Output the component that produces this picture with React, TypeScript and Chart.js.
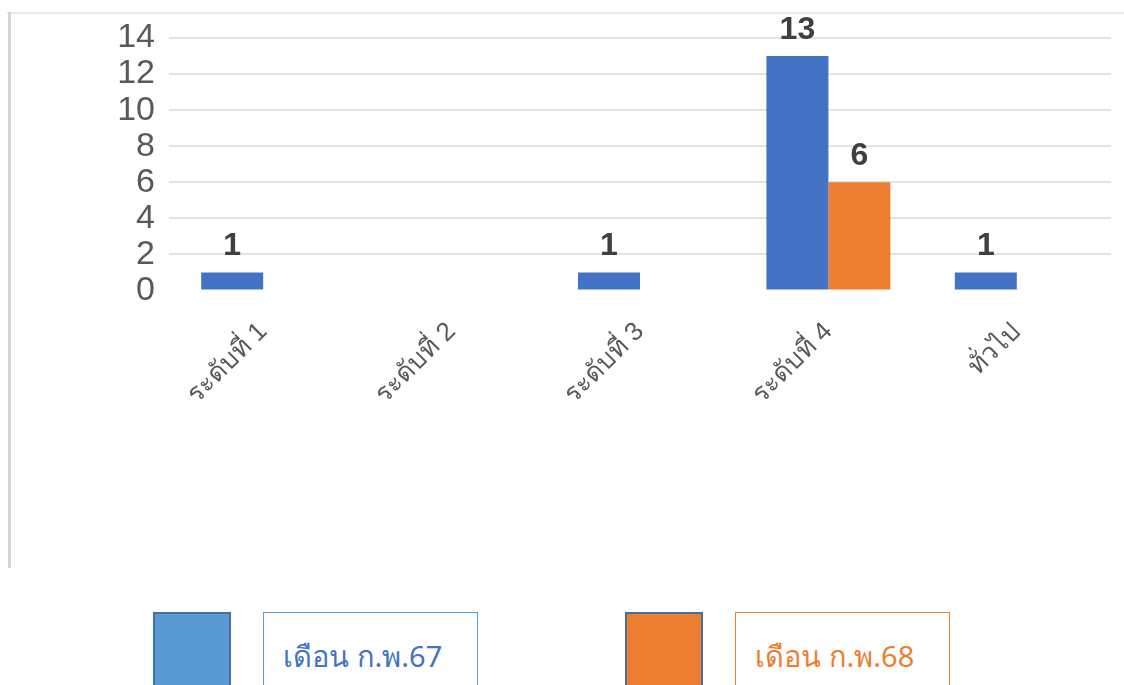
import React, { useEffect, useRef } from "react";
import { Chart, registerables } from "chart.js";

Chart.register(...registerables);

const categories = ["ระดับที่ 1", "ระดับที่ 2", "ระดับที่ 3", "ระดับที่ 4", "ทั่วไป"];
const seriesNames = ["เดือน ก.พ.67", "เดือน ก.พ.68"];
const feb67: (number | null)[] = [1, null, 1, 13, 1];
const feb68: (number | null)[] = [null, null, null, 6, null];
const yMin = 0;
const yMax = 14;
const yStep = 2;

const barColors = ["#4472C4", "#ED7D31"];
const legendSwatch = ["#5B9BD5", "#ED7D31"];
const legendText = ["#4472C4", "#ED7D31"];
const legendBorder = ["#5B9BD5", "#ED7D31"];

const CANVAS_W = 1124;
const CANVAS_H = 570;

const dataLabelPlugin = {
  id: "dataLabels",
  afterDatasetsDraw(chart: any) {
    const ctx = chart.ctx;
    ctx.save();
    ctx.font = "bold 32px 'Liberation Sans', Arial, sans-serif";
    ctx.fillStyle = "#404040";
    ctx.textAlign = "center";
    ctx.textBaseline = "alphabetic";
    chart.data.datasets.forEach((ds: any, i: number) => {
      const meta = chart.getDatasetMeta(i);
      meta.data.forEach((el: any, j: number) => {
        const v = ds.data[j];
        if (v === null || v === undefined) return;
        ctx.fillText(String(v), el.x, el.y - 17);
      });
    });
    ctx.restore();
  },
};

export default function App() {
  const ref = useRef<HTMLCanvasElement | null>(null);

  useEffect(() => {
    if (!ref.current) return;
    const chart = new Chart(ref.current, {
      type: "bar",
      data: {
        labels: categories,
        datasets: [
          {
            label: seriesNames[0],
            data: feb67,
            backgroundColor: barColors[0],
            borderWidth: 0,
            categoryPercentage: 0.658,
            barPercentage: 1,
          },
          {
            label: seriesNames[1],
            data: feb68,
            backgroundColor: barColors[1],
            borderWidth: 0,
            categoryPercentage: 0.658,
            barPercentage: 1,
          },
        ],
      },
      options: {
        responsive: false,
        animation: false,
        devicePixelRatio: 1,
        layout: { padding: { top: 38, right: 13, bottom: 0, left: 0 } },
        plugins: {
          legend: { display: false },
          tooltip: { enabled: false },
        },
        scales: {
          x: {
            grid: { display: false },
            border: { display: false },
            ticks: {
              autoSkip: false,
              maxRotation: 45,
              minRotation: 45,
              color: "#595959",
              padding: 18,
              font: { family: "'Liberation Sans', Arial, sans-serif", size: 26 },
            },
            afterFit: (scale: any) => {
              scale.height = CANVAS_H - 290.5;
            },
          },
          y: {
            min: yMin,
            max: yMax,
            border: { display: false },
            grid: {
              drawTicks: false,
              lineWidth: 2,
              color: (c: any) => (c.tick && c.tick.value === 0 ? "rgba(0,0,0,0)" : "#e3e3e3"),
            },
            ticks: {
              stepSize: yStep,
              autoSkip: false,
              color: "#595959",
              padding: 14,
              font: { family: "'Liberation Sans', Arial, sans-serif", size: 34, lineHeight: 1 },
            },
            afterFit: (scale: any) => {
              scale.width = 169;
            },
          },
        },
      },
      plugins: [dataLabelPlugin],
    });
    return () => chart.destroy();
  }, []);

  const legendItems = seriesNames.map((name, i) => {
    const baseX = i === 0 ? 153 : 625;
    return (
      <React.Fragment key={name}>
        <div
          style={{
            position: "absolute",
            left: baseX,
            top: 612,
            width: 78,
            height: 80,
            boxSizing: "border-box",
            background: legendSwatch[i],
            border: "2px solid #41719C",
          }}
        />
        <div
          style={{
            position: "absolute",
            left: baseX + 110,
            top: 612,
            width: 215,
            height: 80,
            boxSizing: "border-box",
            border: `1.5px solid ${legendBorder[i]}`,
            background: "#fff",
            color: legendText[i],
            fontFamily: "'Noto Sans', 'DejaVu Sans', sans-serif",
            fontSize: 29,
            paddingLeft: 19,
            paddingTop: 21,
            whiteSpace: "nowrap",
          }}
        >
          {name}
        </div>
      </React.Fragment>
    );
  });

  return (
    <div style={{ position: "absolute", left: 0, top: 0, width: CANVAS_W, height: 685, overflow: "hidden" }}>
      <div style={{ position: "absolute", left: 7, top: 12, width: 1117, height: 2, background: "#e8e8e8" }} />
      <div style={{ position: "absolute", left: 8, top: 12, width: 3, height: 556, background: "#d4d4d4" }} />
      <canvas
        ref={ref}
        width={CANVAS_W}
        height={CANVAS_H}
        style={{ position: "absolute", left: 0, top: 0, width: CANVAS_W, height: CANVAS_H }}
      />
      {legendItems}
    </div>
  );
}
